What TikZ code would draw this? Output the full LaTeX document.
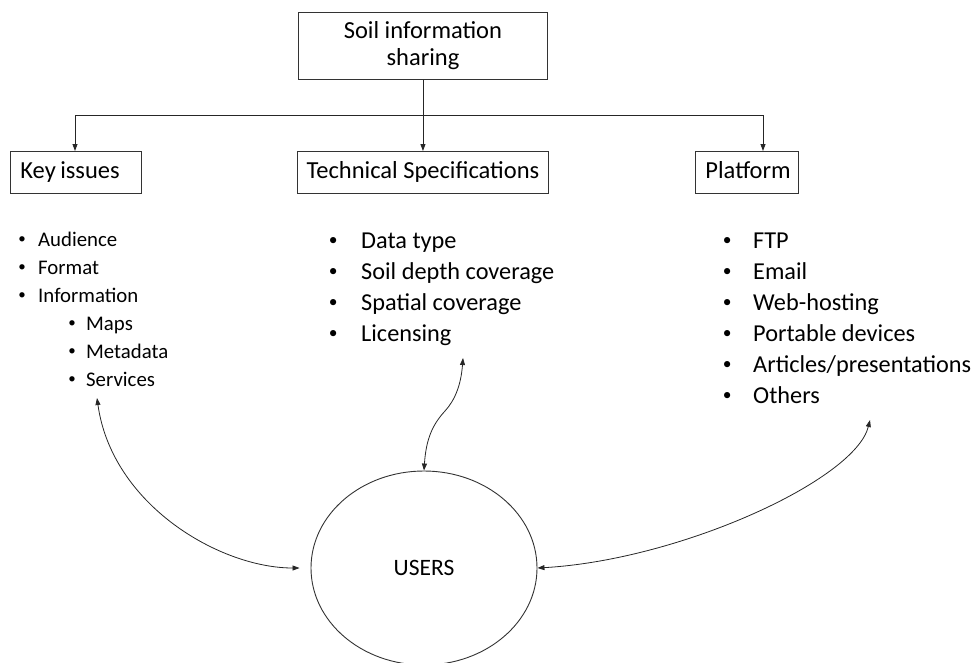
\documentclass[tikz,border=0pt]{standalone}
\usepackage{fontspec}
\setmainfont{Carlito}
\usetikzlibrary{arrows.meta,shapes.geometric}
\newcommand{\mybul}{\makebox[0pt]{\raisebox{0.1em}{\scalebox{0.72}{\textbullet}}}}
\begin{document}
\begin{tikzpicture}[x=1pt,y=-1pt,
  box/.style={draw=black!80, line width=0.9pt, inner sep=0pt, anchor=north west, font=\fontsize{24.5}{27}\selectfont},
  onel/.style={text height=17pt, text depth=5pt},
  link/.style={line width=0.8pt, draw=black!85},
  tip/.style={-{Triangle[length=7pt,width=5pt]}},
  both/.style={{Triangle[length=7pt,width=5pt]}-{Triangle[length=7pt,width=5pt]}},
  listsmall/.style={anchor=base west, inner sep=0pt, font=\fontsize{20.8}{28}\selectfont},
  listbig/.style={anchor=base west, inner sep=0pt, font=\fontsize{24.3}{31}\selectfont}]
\useasboundingbox (0,0) rectangle (976,662);

% boxes
\node[box, minimum width=249pt, minimum height=67pt, align=center] (top) at (298,12) {Soil information\\sharing};
\node[box, onel, minimum width=131pt, minimum height=42pt, text width=111pt, align=left] (key) at (10,151) {Key\hspace{0.18em}issues};
\node[box, onel, minimum width=251pt, minimum height=42pt, align=center] (tech) at (297,151) {Technical Specifications};
\node[box, onel, minimum width=103pt, minimum height=42pt, text width=83pt, align=left] (plat) at (695,151) {Platform};

% tree connectors
\coordinate (hl) at (75,115);
\coordinate (hr) at (763,115);
\draw[link] (hl) -- (hr);
\draw[link,tip] (hl) -- (hl |- key.north);
\draw[link,tip] (hr) -- (hr |- plat.north);
\draw[link,tip] (top.south) -- (tech.north);

% lists
\node[listsmall] (keylist) at (22,246) {\begin{tabular}[t]{@{}l@{}}
\mybul\hspace{16pt}Audience\\
\mybul\hspace{16pt}Format\\
\mybul\hspace{16pt}Information\\
\hspace{50pt}\mybul\hspace{14pt}Maps\\
\hspace{50pt}\mybul\hspace{14pt}Metadata\\
\hspace{50pt}\mybul\hspace{14pt}Services
\end{tabular}};

\node[listbig] (techlist) at (333,248) {\begin{tabular}[t]{@{}l@{}}
\mybul\hspace{28pt}Data type\\
\mybul\hspace{28pt}Soil depth coverage\\
\mybul\hspace{28pt}Spatial coverage\\
\mybul\hspace{28pt}Licensing
\end{tabular}};

\node[listbig] (platlist) at (727,248) {\begin{tabular}[t]{@{}l@{}}
\mybul\hspace{26pt}FTP\\
\mybul\hspace{26pt}Email\\
\mybul\hspace{26pt}Web-hosting\\
\mybul\hspace{26pt}Portable devices\\
\mybul\hspace{26pt}Articles/presentations\\
\mybul\hspace{26pt}Others
\end{tabular}};

% users
\node[draw=black!80, line width=0.9pt, ellipse, minimum width=226pt, minimum height=194pt, inner sep=0pt, font=\fontsize{23.5}{28}\selectfont] (users) at (424,568) {USERS};

% user connectors
\coordinate (keyend) at (97,398);
\coordinate (techend) at (463,358);
\coordinate (kink) at (445,411);
\coordinate (platend) at (870,420);
\draw[link,both] (keyend) .. controls (112,505) and (220,568) .. ([xshift=-11pt]users.west);
\draw[link,both] (techend) .. controls (461,385) and (455,400) .. (kink) .. controls (432,425) and (426,440) .. (users.north);
\draw[link,both] (platend) .. controls (855,480) and (680,560) .. (users.east);
\end{tikzpicture}
\end{document}
